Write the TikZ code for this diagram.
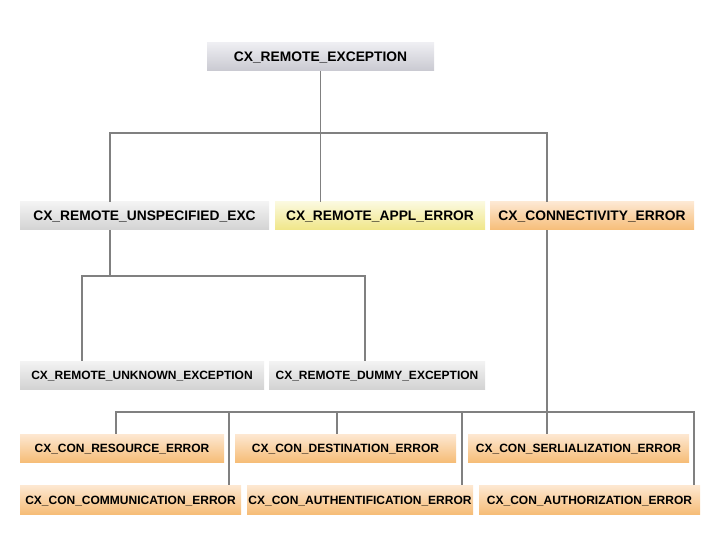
\documentclass[tikz,border=0pt]{standalone}
\usepackage{fontspec}
\setmainfont{Liberation Sans}
\definecolor{linegrey}{HTML}{808080}
\definecolor{greytop}{HTML}{F3F3F3}
\definecolor{greybot}{HTML}{D3D3D3}
\definecolor{roottop}{HTML}{EEEEF2}
\definecolor{rootbot}{HTML}{C9C9D1}
\definecolor{yellowtop}{HTML}{FBF9DE}
\definecolor{yellowbot}{HTML}{F0E688}
\definecolor{orangetop}{HTML}{FDE8D2}
\definecolor{orangebot}{HTML}{F6BD78}

\begin{document}
\begin{tikzpicture}[x=1pt,y=-1pt]
\tikzset{boite/.style={inner sep=0pt, minimum height=28pt, text height=0.95em, text depth=0pt, font=\bfseries\fontsize{13.8}{15}\selectfont},
  petiteboite/.style={boite, font=\bfseries\fontsize{12}{14}\selectfont},
  gris/.style={top color=greytop, bottom color=greybot},
  racine/.style={top color=roottop, bottom color=rootbot},
  jaune/.style={top color=yellowtop, bottom color=yellowbot},
  orange/.style={top color=orangetop, bottom color=orangebot},
  lien/.style={draw=linegrey, line width=1.9pt}}
\useasboundingbox (0,0) rectangle (720,540);
\node[boite, racine, minimum width=227pt] (rex) at (320.5,57) {CX\_REMOTE\_EXCEPTION};
\node[boite, gris, minimum width=249pt] (unspec) at (144.5,216) {CX\_REMOTE\_UNSPECIFIED\_EXC};
\node[boite, jaune, minimum width=210pt] (appl) at (380,216) {CX\_REMOTE\_APPL\_ERROR};
\node[boite, orange, minimum width=204pt] (conn) at (592,216) {CX\_CONNECTIVITY\_ERROR};
\node[petiteboite, gris, minimum width=244pt] (unknown) at (142,375) {CX\_REMOTE\_UNKNOWN\_EXCEPTION};
\node[petiteboite, gris, minimum width=216pt] (dummy) at (377,375) {CX\_REMOTE\_DUMMY\_EXCEPTION};
\node[petiteboite, orange, minimum width=204pt] (resource) at (122,448) {CX\_CON\_RESOURCE\_ERROR};
\node[petiteboite, orange, minimum width=221pt] (dest) at (345.5,448) {CX\_CON\_DESTINATION\_ERROR};
\node[petiteboite, orange, minimum width=221pt] (serl) at (578.5,448) {CX\_CON\_SERLIALIZATION\_ERROR};
\node[petiteboite, orange, minimum width=221pt, minimum height=29pt] (comm) at (130.5,499.5) {CX\_CON\_COMMUNICATION\_ERROR};
\node[petiteboite, orange, minimum width=226pt, minimum height=29pt] (authent) at (360,499.5) {CX\_CON\_AUTHENTIFICATION\_ERROR};
\node[petiteboite, orange, minimum width=221pt, minimum height=29pt] (authoriz) at (589.5,499.5) {CX\_CON\_AUTHORIZATION\_ERROR};
% niveau 2
\coordinate (t1) at (110,133);
\coordinate (t2) at (547,133);
\draw[lien] (rex.south) -- (rex.south |- appl.north);
\draw[lien] (t1 |- unspec.north) -- (t1) -- (t2) -- (t2 |- conn.north);
% niveau 3
\coordinate (u1) at (82,276);
\coordinate (u2) at (365,276);
\draw[lien] (t1 |- unspec.south) -- (t1 |- u1);
\draw[lien] (u1 |- unknown.north) -- (u1) -- (u2) -- (u2 |- dummy.north);
% niveau 4
\coordinate (c1) at (116,412);
\coordinate (c2) at (694,412);
\draw[lien] (t2 |- conn.south) -- (t2 |- serl.north);
\draw[lien] (c1 |- resource.north) -- (c1) -- (c2) -- (c2 |- authoriz.north);
\foreach \xx/\nd in {229/comm, 337/dest, 462/authent} {
  \coordinate (d\nd) at (\xx,412);
  \draw[lien] (d\nd) -- (d\nd |- \nd.north);
}
\end{tikzpicture}
\end{document}
